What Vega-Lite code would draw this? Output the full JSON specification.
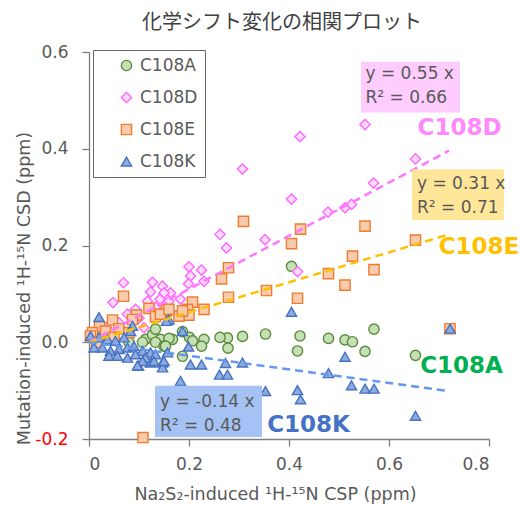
{
  "$schema": "https://vega.github.io/schema/vega-lite/v6.json",
  "autosize": {"type": "none"},
  "padding": {"left": 89, "top": 52, "right": 31, "bottom": 68},
  "width": 400,
  "height": 387,
  "background": "white",
  "title": {"text": "化学シフト変化の相関プロット", "font": "Noto Sans CJK JP", "fontSize": 20, "fontWeight": "normal", "color": "#404040", "anchor": "middle", "dx": -7, "offset": 10},
  "config": {
    "view": {"stroke": null},
    "font": "DejaVu Sans",
    "axis": {"grid": false, "domainColor": "#7f7f7f", "tickColor": "#7f7f7f", "domainWidth": 1.3, "tickWidth": 1.3, "tickSize": 7, "labelFont": "DejaVu Sans", "labelFontSize": 17, "labelColor": "#595959", "titleFont": "DejaVu Sans", "titleFontSize": 17.5, "titleFontWeight": "normal", "titleColor": "#595959"},
    "legend": {"title": null, "orient": "none", "legendX": 4, "legendY": -2, "strokeColor": "#666666", "padding": 7, "symbolOffset": 18, "rowPadding": 14, "labelFontSize": 17, "labelFont": "DejaVu Sans", "labelColor": "#595959", "labelOffset": 5, "symbolSize": 105, "symbolStrokeWidth": 1.4}
  },
  "datasets": {
    "points": [
      {"series":"C108A","x":0.405,"y":0.157},{"series":"C108A","x":0.422,"y":0.013},{"series":"C108A","x":0.417,"y":-0.018},{"series":"C108A","x":0.479,"y":0.008},{"series":"C108A","x":0.512,"y":0.005},{"series":"C108A","x":0.527,"y":0.001},{"series":"C108A","x":0.57,"y":0.027},{"series":"C108A","x":0.552,"y":-0.019},{"series":"C108A","x":0.653,"y":-0.027},{"series":"C108A","x":0.353,"y":0.017},{"series":"C108A","x":0.307,"y":0.012},{"series":"C108A","x":0.277,"y":0.009},{"series":"C108A","x":0.262,"y":0.01},{"series":"C108A","x":0.23,"y":0.006},{"series":"C108A","x":0.278,"y":-0.012},{"series":"C108A","x":0.187,"y":-0.029},{"series":"C108A","x":0.187,"y":0.022},{"series":"C108A","x":0.167,"y":0.006},{"series":"C108A","x":0.201,"y":0.01},{"series":"C108A","x":0.207,"y":0.003},{"series":"C108A","x":0.225,"y":-0.008},{"series":"C108A","x":0.113,"y":0.006},{"series":"C108A","x":0.127,"y":0.016},{"series":"C108A","x":0.143,"y":0.006},{"series":"C108A","x":0.16,"y":0.008},{"series":"C108A","x":0.133,"y":0.0},{"series":"C108A","x":0.15,"y":-0.008},{"series":"C108A","x":0.107,"y":0.0},{"series":"C108A","x":0.133,"y":0.027},{"series":"C108A","x":0.153,"y":-0.008},{"series":"C108A","x":0.05,"y":0.005},{"series":"C108A","x":0.08,"y":0.0},{"series":"C108A","x":0.02,"y":0.0},
      {"series":"C108D","x":0.552,"y":0.45},{"series":"C108D","x":0.422,"y":0.425},{"series":"C108D","x":0.653,"y":0.379},{"series":"C108D","x":0.569,"y":0.329},{"series":"C108D","x":0.405,"y":0.296},{"series":"C108D","x":0.478,"y":0.269},{"series":"C108D","x":0.512,"y":0.278},{"series":"C108D","x":0.525,"y":0.285},{"series":"C108D","x":0.417,"y":0.146},{"series":"C108D","x":0.307,"y":0.358},{"series":"C108D","x":0.262,"y":0.223},{"series":"C108D","x":0.352,"y":0.212},{"series":"C108D","x":0.275,"y":0.195},{"series":"C108D","x":0.2,"y":0.156},{"series":"C108D","x":0.225,"y":0.149},{"series":"C108D","x":0.203,"y":0.137},{"series":"C108D","x":0.23,"y":0.126},{"series":"C108D","x":0.199,"y":0.121},{"series":"C108D","x":0.163,"y":0.102},{"series":"C108D","x":0.183,"y":0.089},{"series":"C108D","x":0.069,"y":0.123},{"series":"C108D","x":0.127,"y":0.124},{"series":"C108D","x":0.123,"y":0.104},{"series":"C108D","x":0.147,"y":0.116},{"series":"C108D","x":0.15,"y":0.102},{"series":"C108D","x":0.048,"y":0.082},{"series":"C108D","x":0.117,"y":0.085},{"series":"C108D","x":0.142,"y":0.089},{"series":"C108D","x":0.16,"y":0.085},{"series":"C108D","x":0.077,"y":0.058},{"series":"C108D","x":0.093,"y":0.068},{"series":"C108D","x":0.133,"y":0.072},{"series":"C108D","x":0.157,"y":0.068},{"series":"C108D","x":0.02,"y":0.02},{"series":"C108D","x":0.035,"y":0.03},{"series":"C108D","x":0.06,"y":0.04},{"series":"C108D","x":0.1,"y":0.05},{"series":"C108D","x":0.11,"y":0.03},{"series":"C108D","x":0.01,"y":0.01},
      {"series":"C108E","x":0.309,"y":0.25},{"series":"C108E","x":0.423,"y":0.234},{"series":"C108E","x":0.405,"y":0.204},{"series":"C108E","x":0.552,"y":0.24},{"series":"C108E","x":0.653,"y":0.211},{"series":"C108E","x":0.527,"y":0.178},{"series":"C108E","x":0.479,"y":0.142},{"series":"C108E","x":0.57,"y":0.15},{"series":"C108E","x":0.512,"y":0.118},{"series":"C108E","x":0.417,"y":0.091},{"series":"C108E","x":0.722,"y":0.028},{"series":"C108E","x":0.108,"y":-0.197},{"series":"C108E","x":0.279,"y":0.154},{"series":"C108E","x":0.265,"y":0.131},{"series":"C108E","x":0.355,"y":0.107},{"series":"C108E","x":0.279,"y":0.093},{"series":"C108E","x":0.069,"y":0.095},{"series":"C108E","x":0.207,"y":0.083},{"series":"C108E","x":0.23,"y":0.068},{"series":"C108E","x":0.197,"y":0.068},{"series":"C108E","x":0.155,"y":0.066},{"series":"C108E","x":0.12,"y":0.07},{"series":"C108E","x":0.133,"y":0.053},{"series":"C108E","x":0.095,"y":0.056},{"series":"C108E","x":0.047,"y":0.046},{"series":"C108E","x":0.021,"y":0.032},{"series":"C108E","x":0.2,"y":0.056},{"series":"C108E","x":0.18,"y":0.054},{"series":"C108E","x":0.007,"y":0.02},{"series":"C108E","x":0.003,"y":0.013},{"series":"C108E","x":0.033,"y":0.023},{"series":"C108E","x":0.06,"y":0.028},{"series":"C108E","x":0.087,"y":0.047},{"series":"C108E","x":0.143,"y":0.058},{"series":"C108E","x":0.187,"y":0.065},{"series":"C108E","x":0.16,"y":0.068},{"series":"C108E","x":0.05,"y":0.01},{"series":"C108E","x":0.015,"y":0.0},{"series":"C108E","x":0.08,"y":0.02},
      {"series":"C108K","x":0.405,"y":0.063},{"series":"C108K","x":0.722,"y":0.028},{"series":"C108K","x":0.512,"y":-0.03},{"series":"C108K","x":0.479,"y":-0.064},{"series":"C108K","x":0.525,"y":-0.089},{"series":"C108K","x":0.552,"y":-0.096},{"series":"C108K","x":0.57,"y":-0.096},{"series":"C108K","x":0.417,"y":-0.099},{"series":"C108K","x":0.423,"y":-0.118},{"series":"C108K","x":0.653,"y":-0.152},{"series":"C108K","x":0.353,"y":-0.101},{"series":"C108K","x":0.307,"y":-0.042},{"series":"C108K","x":0.273,"y":-0.043},{"series":"C108K","x":0.225,"y":-0.046},{"series":"C108K","x":0.203,"y":-0.046},{"series":"C108K","x":0.261,"y":-0.067},{"series":"C108K","x":0.277,"y":-0.067},{"series":"C108K","x":0.183,"y":-0.08},{"series":"C108K","x":0.199,"y":-0.009},{"series":"C108K","x":0.187,"y":0.023},{"series":"C108K","x":0.16,"y":0.047},{"series":"C108K","x":0.157,"y":-0.021},{"series":"C108K","x":0.147,"y":-0.042},{"series":"C108K","x":0.123,"y":-0.042},{"series":"C108K","x":0.099,"y":-0.049},{"series":"C108K","x":0.087,"y":0.034},{"series":"C108K","x":0.02,"y":0.052},{"series":"C108K","x":0.083,"y":0.023},{"series":"C108K","x":0.155,"y":0.044},{"series":"C108K","x":0.003,"y":0.013},{"series":"C108K","x":0.02,"y":0.01},{"series":"C108K","x":0.037,"y":0.006},{"series":"C108K","x":0.053,"y":0.003},{"series":"C108K","x":0.07,"y":0.01},{"series":"C108K","x":0.01,"y":-0.011},{"series":"C108K","x":0.027,"y":-0.011},{"series":"C108K","x":0.043,"y":-0.018},{"series":"C108K","x":0.06,"y":-0.014},{"series":"C108K","x":0.077,"y":-0.011},{"series":"C108K","x":0.09,"y":-0.008},{"series":"C108K","x":0.107,"y":-0.018},{"series":"C108K","x":0.04,"y":-0.028},{"series":"C108K","x":0.057,"y":-0.028},{"series":"C108K","x":0.077,"y":-0.032},{"series":"C108K","x":0.093,"y":-0.025},{"series":"C108K","x":0.123,"y":-0.021},{"series":"C108K","x":0.133,"y":-0.025},{"series":"C108K","x":0.147,"y":-0.052},{"series":"C108K","x":0.113,"y":-0.032},{"series":"C108K","x":0.13,"y":-0.039},{"series":"C108K","x":0.15,"y":-0.039},{"series":"C108K","x":0.107,"y":-0.039},{"series":"C108K","x":0.097,"y":-0.048}
    ],
    "fits": [
      {"series":"C108D","x":0,"y":0},{"series":"C108D","x":0.72,"y":0.396},
      {"series":"C108E","x":0,"y":0},{"series":"C108E","x":0.72,"y":0.223},
      {"series":"C108K","x":0,"y":0},{"series":"C108K","x":0.72,"y":-0.101}
    ],
    "boxes": [
      {"series":"C108D","x1":0.544,"x2":0.742,"y1":0.58,"y2":0.475,"tx":0.553,"ty":0.571,"label":"y = 0.55 x\nR² = 0.66"},
      {"series":"C108E","x1":0.646,"x2":0.83,"y1":0.357,"y2":0.252,"tx":0.656,"ty":0.344,"label":"y = 0.31 x\nR² = 0.71"},
      {"series":"C108K","x1":0.132,"x2":0.346,"y1":-0.09,"y2":-0.196,"tx":0.142,"ty":-0.107,"label":"y = -0.14 x\nR² = 0.48"}
    ],
    "names": [
      {"series":"C108A","x":0.745,"y":-0.05},
      {"series":"C108D","x":0.741,"y":0.443},
      {"series":"C108E","x":0.78,"y":0.196},
      {"series":"C108K","x":0.439,"y":-0.172}
    ]
  },
  "layer": [
    {
      "data": {"name": "points"},
      "mark": {"type": "point", "size": 105, "strokeWidth": 1.4, "opacity": 1, "fillOpacity": 1},
      "encoding": {
        "x": {"field": "x", "type": "quantitative", "scale": {"domain": [0, 0.8], "nice": false, "zero": false},
              "axis": {"values": [0, 0.2, 0.4, 0.6, 0.8], "labelExpr": "datum.value == 0 ? '0' : format(datum.value, '.1f')", "labelPadding": 10, "title": "Na₂S₂-induced ¹H-¹⁵N CSP (ppm)", "titleX": 186, "titleY": 55, "titleBaseline": "middle", "titleAnchor": "middle"}},
        "y": {"field": "y", "type": "quantitative", "scale": {"domain": [-0.2, 0.6], "nice": false, "zero": false},
              "axis": {"values": [-0.2, 0, 0.2, 0.4, 0.6], "labelExpr": "replace(format(datum.value, '.1f'), '−', '-')", "labelPadding": 14, "labelColor": {"condition": {"test": "datum.value < -0.1", "value": "#ff0000"}, "value": "#595959"}, "title": "Mutation-induced ¹H-¹⁵N CSD (ppm)", "titleX": -65, "titleY": 236, "titleBaseline": "middle", "titleAlign": "center", "titleAngle": -90}},
        "shape": {"field": "series", "type": "nominal", "scale": {"domain": ["C108A", "C108D", "C108E", "C108K"], "range": ["circle", "diamond", "square", "triangle-up"]}, "legend": {"title": null, "labelExpr": "datum.label + '   '"}},
        "fill": {"field": "series", "type": "nominal", "scale": {"domain": ["C108A", "C108D", "C108E", "C108K"], "range": ["#c5e0b4", "#ffdcff", "#f8cbad", "#8faadc"]}, "legend": {"title": null, "labelExpr": "datum.label + '   '"}},
        "stroke": {"field": "series", "type": "nominal", "scale": {"domain": ["C108A", "C108D", "C108E", "C108K"], "range": ["#5b8a3c", "#ff66ff", "#ed7d31", "#4472c4"]}, "legend": {"title": null, "labelExpr": "datum.label + '   '"}}
      }
    },
    {
      "data": {"name": "fits"},
      "mark": {"type": "line", "strokeWidth": 2.5, "strokeDash": [8, 5]},
      "encoding": {
        "x": {"field": "x", "type": "quantitative"},
        "y": {"field": "y", "type": "quantitative"},
        "detail": {"field": "series"},
        "color": {"field": "series", "type": "nominal", "scale": {"domain": ["C108D", "C108E", "C108K"], "range": ["#ff77ff", "#ffc000", "#6699ee"]}, "legend": null}
      }
    },
    {
      "data": {"name": "boxes"},
      "mark": {"type": "rect"},
      "encoding": {
        "x": {"field": "x1", "type": "quantitative"},
        "x2": {"field": "x2"},
        "y": {"field": "y1", "type": "quantitative"},
        "y2": {"field": "y2"},
        "fill": {"field": "series", "type": "nominal", "scale": {"domain": ["C108D", "C108E", "C108K"], "range": ["#ffccff", "#ffe699", "#a4c2f4"]}, "legend": null}
      }
    },
    {
      "data": {"name": "boxes"},
      "mark": {"type": "text", "lineBreak": "\n", "lineHeight": 24, "fontSize": 17, "font": "DejaVu Sans", "color": "#595959", "align": "left", "baseline": "top"},
      "encoding": {
        "x": {"field": "tx", "type": "quantitative"},
        "y": {"field": "ty", "type": "quantitative"},
        "text": {"field": "label"}
      }
    },
    {
      "data": {"name": "names"},
      "mark": {"type": "text", "fontSize": 23, "fontWeight": "bold", "font": "DejaVu Sans", "align": "center", "baseline": "middle"},
      "encoding": {
        "x": {"field": "x", "type": "quantitative"},
        "y": {"field": "y", "type": "quantitative"},
        "text": {"field": "series"},
        "color": {"field": "series", "type": "nominal", "scale": {"domain": ["C108A", "C108D", "C108E", "C108K"], "range": ["#00b050", "#ff88ff", "#ffc000", "#4472c4"]}, "legend": null}
      }
    }
  ],
  "resolve": {"scale": {"color": "independent", "fill": "independent", "stroke": "independent", "shape": "independent"}}
}
